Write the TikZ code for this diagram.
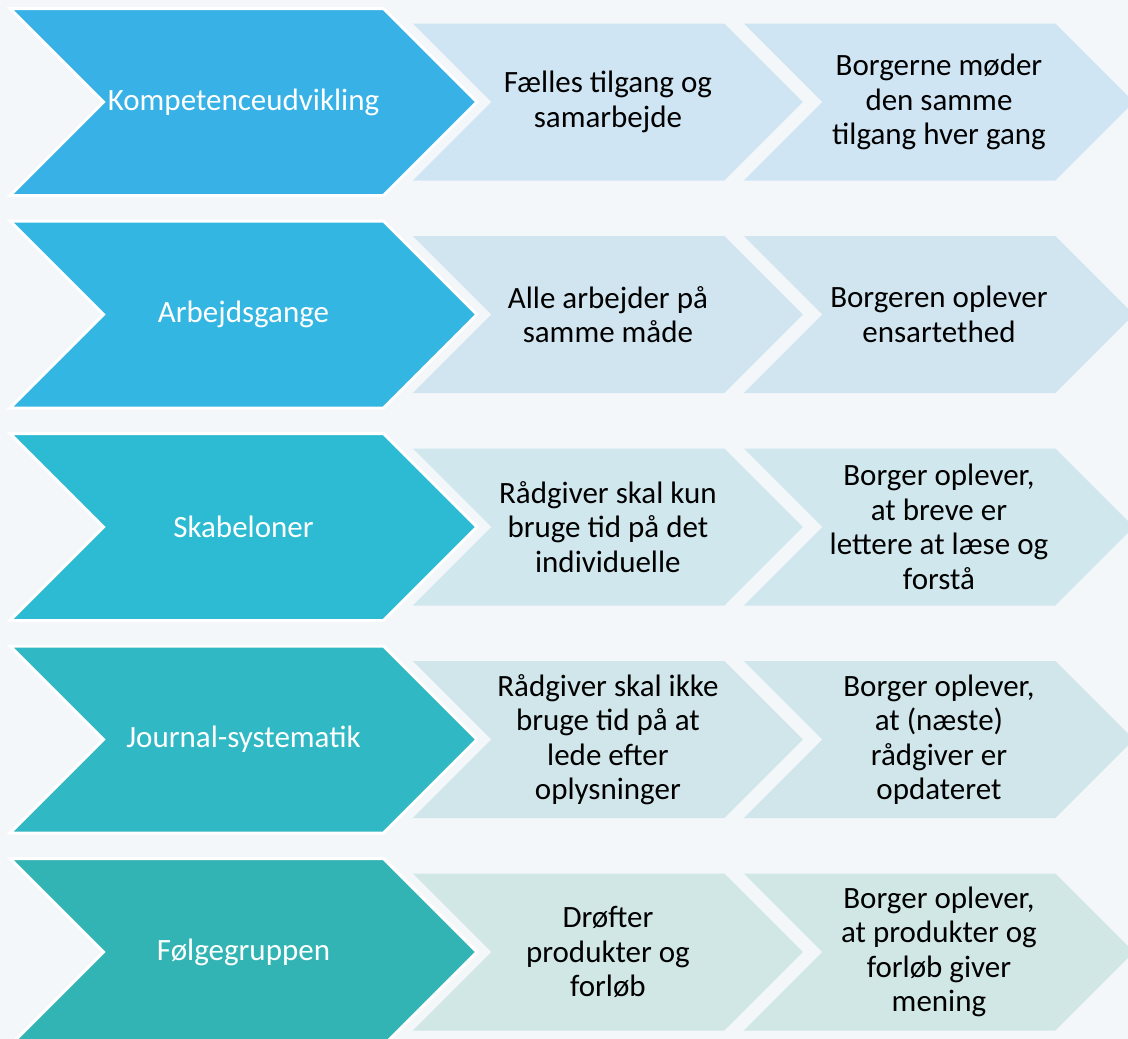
\documentclass[tikz,border=0pt]{standalone}
\usepackage{fontspec}
\setmainfont{Carlito}
\usepackage{tikz}
\usetikzlibrary{positioning,shapes.symbols}

\definecolor{bgcol}{HTML}{F3F7FA}
\definecolor{stepA}{HTML}{38B2E6}
\definecolor{stepB}{HTML}{33B6E1}
\definecolor{stepC}{HTML}{2DBBD3}
\definecolor{stepD}{HTML}{30B8C4}
\definecolor{stepE}{HTML}{32B3B4}
\definecolor{paleA}{HTML}{D0E5F3}
\definecolor{paleB}{HTML}{D0E5F0}
\definecolor{paleC}{HTML}{D0E7EE}
\definecolor{paleD}{HTML}{D0E6EA}
\definecolor{paleE}{HTML}{D0E7E6}

\begin{document}
\begin{tikzpicture}[x=1pt, y=-1pt,
  bignode/.style={signal, signal from=west, signal to=east, signal pointer angle=90,
    draw=white, line width=3pt, minimum width=467pt, minimum height=187pt,
    inner sep=0pt, text=white, align=center, font=\fontsize{31}{34.5}\selectfont},
  smallnode/.style={signal, signal from=west, signal to=east, signal pointer angle=90,
    minimum width=390pt, minimum height=157pt,
    inner sep=0pt, text=black, align=center, font=\fontsize{31}{34.5}\selectfont}
  ]
  % Background
  \fill[bgcol] (0,0) rectangle (1128,1039);
  \useasboundingbox (0,0) rectangle (1128,1039);

  % Main steps
  \node[bignode, fill=stepA]  (step1)  at (243.5,102)         {Kompetenceudvikling};
  \node[bignode, fill=stepB]  (step2)  [below=22.5pt of step1] {Arbejdsgange};
  \node[bignode, fill=stepC]  (step3)  [below=22.5pt of step2] {Skabeloner};
  \node[bignode, fill=stepD]  (step4)  [below=22.5pt of step3] {Journal-systematik};
  \node[bignode, fill=stepE]  (step5)  [below=22.5pt of step4] {Følgegruppen};

  % What the staff get
  \node[smallnode, fill=paleA]  (staff1)  [right=12pt of step1]  {Fælles tilgang og\\samarbejde};
  \node[smallnode, fill=paleB]  (staff2)  [right=12pt of step2]  {Alle arbejder på\\samme måde};
  \node[smallnode, fill=paleC]  (staff3)  [right=12pt of step3]  {Rådgiver skal kun\\bruge tid på det\\individuelle};
  \node[smallnode, fill=paleD]  (staff4)  [right=12pt of step4]  {Rådgiver skal ikke\\bruge tid på at\\lede efter\\oplysninger};
  \node[smallnode, fill=paleE]  (staff5)  [right=12pt of step5]  {Drøfter\\produkter og\\forløb};

  % What the citizens get
  \node[smallnode, fill=paleA]  (citizen1)  [right=19pt of staff1]  {Borgerne møder\\den samme\\tilgang hver gang};
  \node[smallnode, fill=paleB]  (citizen2)  [right=19pt of staff2]  {Borgeren oplever\\ensartethed};
  \node[smallnode, fill=paleC]  (citizen3)  [right=19pt of staff3]  {Borger oplever,\\at breve er\\lettere at læse og\\forstå};
  \node[smallnode, fill=paleD]  (citizen4)  [right=19pt of staff4]  {Borger oplever,\\at (næste)\\rådgiver er\\opdateret};
  \node[smallnode, fill=paleE]  (citizen5)  [right=19pt of staff5]  {Borger oplever,\\at produkter og\\forløb giver\\mening};

\end{tikzpicture}
\end{document}
